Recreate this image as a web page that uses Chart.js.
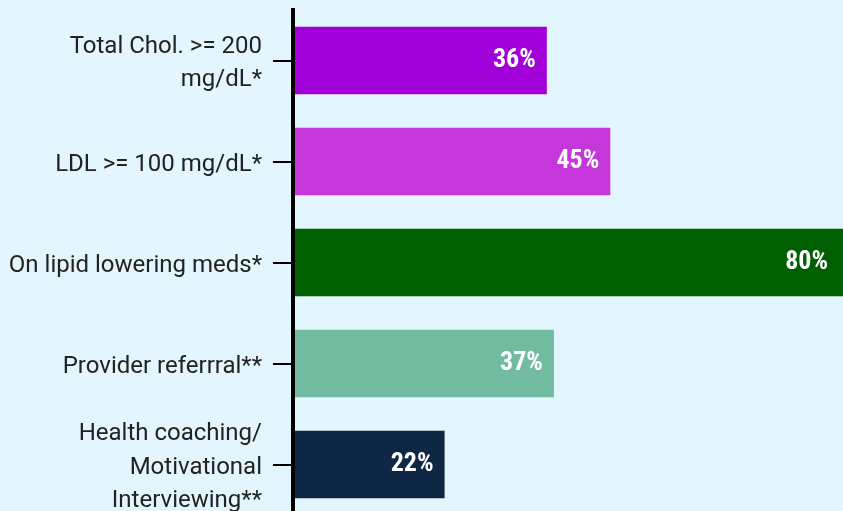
<!DOCTYPE html>
<html>
<head>
<meta charset="utf-8">
<script src="https://cdn.jsdelivr.net/npm/chart.js@4.4.1/dist/chart.umd.min.js"></script>
<style>
  html, body { margin: 0; padding: 0; background: #e3f6fd; overflow: hidden; }
  #wrap { position: relative; width: 843px; height: 515px; }
</style>
</head>
<body>
<div id="wrap"><canvas id="c"></canvas></div>
<script>
const categories = [
  ["Total Chol. >= 200", "mg/dL*"],
  ["LDL >= 100 mg/dL*"],
  ["On lipid lowering meds*"],
  ["Provider referrral**"],
  ["Health coaching/", "Motivational", "Interviewing**"]
];
const values = [36, 45, 80, 37, 21.5];
const valueLabels = ["36%", "45%", "80%", "37%", "22%"];
const barColors = ["#a100d8", "#c536db", "#005f00", "#73bba0", "#0e2744"];

const valueLabelPlugin = {
  id: 'valueLabels',
  afterDatasetsDraw(chart) {
    const ctx = chart.ctx;
    const meta = chart.getDatasetMeta(0);
    const area = chart.chartArea;
    ctx.save();
    ctx.fillStyle = '#ffffff';
    ctx.font = 'bold 26px "Liberation Sans Narrow", "Roboto Condensed", Roboto, sans-serif';
    ctx.textAlign = 'right';
    ctx.textBaseline = 'middle';
    meta.data.forEach((bar, i) => {
      const xEnd = Math.min(bar.x, area.right - 4);
      ctx.fillText(valueLabels[i], xEnd - 11, bar.y);
    });
    ctx.restore();
  }
};

new Chart(document.getElementById('c'), {
  type: 'bar',
  data: {
    labels: categories,
    datasets: [{
      data: values,
      backgroundColor: barColors,
      borderWidth: 0,
      barPercentage: 0.67,
      categoryPercentage: 1
    }]
  },
  options: {
    indexAxis: 'y',
    responsive: true,
    maintainAspectRatio: false,
    animation: false,
    layout: { padding: { top: 10, right: 0, bottom: 0, left: 0 } },
    plugins: { legend: { display: false }, tooltip: { enabled: false } },
    scales: {
      x: {
        display: false,
        min: 0,
        max: 78
      },
      y: {
        afterFit(scale) {
          scale.width = 293;
          scale.paddingTop = 0;
          scale.paddingBottom = 0;
        },
        border: { display: true, color: '#000000', width: 4, z: 1 },
        grid: {
          display: true,
          offset: false,
          drawOnChartArea: false,
          drawTicks: true,
          tickLength: 20,
          tickColor: '#000000',
          tickWidth: 2,
          lineWidth: 2
        },
        ticks: {
          autoSkip: false,
          color: '#222222',
          padding: 11,
          labelOffset: 3,
          font: { family: 'Roboto', size: 24, lineHeight: 1.4 }
        }
      }
    }
  },
  plugins: [valueLabelPlugin]
});
</script>
</body>
</html>
